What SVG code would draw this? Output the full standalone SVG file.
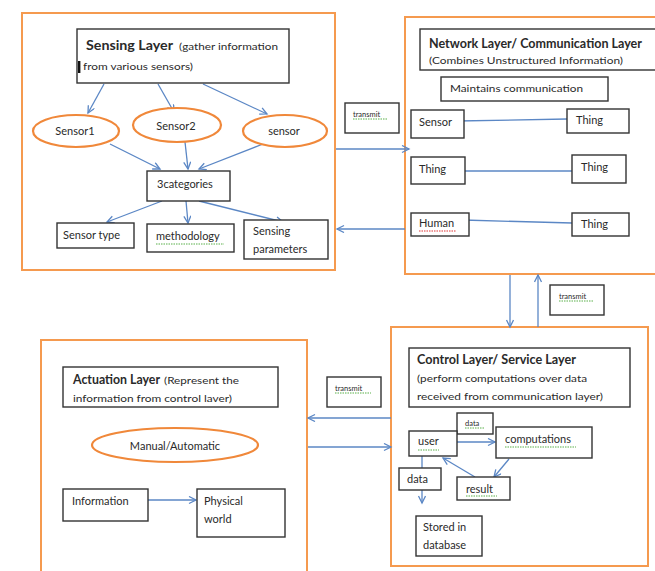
<svg xmlns="http://www.w3.org/2000/svg" width="655" height="571" viewBox="0 0 655 571">
<defs>
<style>
.layer{fill:#fff;stroke:#F59A4F;stroke-width:2}
.box{fill:#fff;stroke:#333;stroke-width:1.4}
.ell{fill:#fff;stroke:#F0883A;stroke-width:2.2}
.con{stroke:#5B87C5;stroke-width:1.3;fill:none}
.arr{marker-end:url(#ah)}
text{font-family:Lato,"Open Sans","Liberation Sans",sans-serif;fill:#2a2a2a}
.t{font-size:11px}
.s{font-size:10px}
.xs{font-size:7.5px}
.b{font-size:13px;font-weight:bold}
.sq{stroke:#5AB04A;stroke-width:1.2;stroke-dasharray:1.5 1;fill:none}
.sqr{stroke:#D33;stroke-width:1.2;stroke-dasharray:1.5 1;fill:none}
</style>
<marker id="ah" markerWidth="10" markerHeight="10" refX="8" refY="4" orient="auto" markerUnits="userSpaceOnUse">
<path d="M1,0.5 L8,4 L1,7.5" fill="none" stroke="#5B87C5" stroke-width="1.3"/>
</marker>
</defs>
<rect width="655" height="571" fill="#fff"/>

<g id="sensing-layer">
<rect class="layer" x="22" y="13" width="313" height="257"/>
</g>
<g id="network-layer">
<rect class="layer" x="405" y="17" width="260" height="257"/>
</g>
<g id="control-layer">
<rect class="layer" x="391" y="327" width="257" height="239"/>
</g>
<g id="actuation-layer">
<rect class="layer" x="41" y="340" width="266" height="240"/>
</g>

<g id="connectors">
<line class="con arr" x1="104" y1="84" x2="88" y2="113"/>
<line class="con arr" x1="158" y1="84" x2="174" y2="112"/>
<line class="con arr" x1="203" y1="84" x2="267" y2="114"/>
<line class="con arr" x1="110" y1="144" x2="160" y2="169"/>
<line class="con arr" x1="185" y1="142" x2="188" y2="169"/>
<line class="con arr" x1="263" y1="144" x2="199" y2="169"/>
<line class="con arr" x1="162" y1="201" x2="107" y2="222"/>
<line class="con arr" x1="186" y1="201" x2="188" y2="223"/>
<line class="con arr" x1="199" y1="201" x2="283" y2="222"/>
<line class="con arr" x1="336" y1="149" x2="409" y2="149"/>
<line class="con arr" x1="405" y1="229" x2="337" y2="229"/>
<line class="con" x1="457" y1="121" x2="567" y2="119"/>
<line class="con" x1="458" y1="171" x2="572" y2="171"/>
<line class="con" x1="463" y1="220" x2="572" y2="223"/>
<line class="con arr" x1="510" y1="275" x2="510" y2="327"/>
<line class="con arr" x1="538" y1="327" x2="538" y2="275"/>
<line class="con arr" x1="391" y1="418" x2="308" y2="418"/>
<line class="con arr" x1="308" y1="447" x2="391" y2="447"/>
<line class="con arr" x1="457" y1="442" x2="495" y2="442"/>
<line class="con arr" x1="509" y1="459" x2="494" y2="477"/>
<line class="con arr" x1="475" y1="477" x2="443" y2="458"/>
<line class="con arr" x1="422" y1="456" x2="422" y2="503"/>
<line class="con arr" x1="148" y1="500" x2="196" y2="500"/>
</g>

<g id="sensing-title">
<rect class="box" x="77" y="29" width="212" height="54"/>
<text x="86" y="50" class="b" textLength="87" lengthAdjust="spacingAndGlyphs">Sensing Layer</text>
<text x="179" y="50" class="s" textLength="99" lengthAdjust="spacingAndGlyphs">(gather information</text>
<rect x="78" y="61" width="2.4" height="12" fill="#111"/>
<text x="83" y="70" class="s" textLength="110" lengthAdjust="spacingAndGlyphs">from various sensors)</text>
</g>
<g id="sensor1">
<ellipse class="ell" cx="76" cy="131" rx="43" ry="16"/>
<text x="75" y="135" class="t" text-anchor="middle">Sensor1</text>
</g>
<g id="sensor2">
<ellipse class="ell" cx="177" cy="125" rx="44" ry="17"/>
<text x="176" y="130" class="t" text-anchor="middle">Sensor2</text>
</g>
<g id="sensor3">
<ellipse class="ell" cx="285" cy="131" rx="42" ry="16"/>
<text x="284" y="135" class="t" text-anchor="middle">sensor</text>
</g>
<g id="categories">
<rect class="box" x="147" y="171" width="83" height="30"/>
<text x="157" y="188" class="t">3categories</text>
</g>
<g id="sensor-type">
<rect class="box" x="57" y="223" width="77" height="25"/>
<text x="63" y="239" class="t">Sensor type</text>
</g>
<g id="methodology">
<rect class="box" x="147" y="224" width="87" height="28"/>
<text x="156" y="240" class="t">methodology</text>
<line class="sq" x1="156" y1="244" x2="224" y2="244"/>
</g>
<g id="sensing-parameters">
<rect class="box" x="244" y="220" width="84" height="39"/>
<text x="253" y="235" class="t">Sensing</text>
<text x="253" y="253" class="t">parameters</text>
</g>

<g id="transmit-1">
<rect class="box" x="345" y="103" width="54" height="30"/>
<text x="353" y="117" class="xs">transmit</text>
<line class="sq" x1="353" y1="119" x2="387" y2="119"/>
</g>

<g id="network-title">
<rect class="box" x="420" y="29" width="245" height="41"/>
<text x="429" y="48" class="b" textLength="213" lengthAdjust="spacingAndGlyphs">Network  Layer/ Communication  Layer</text>
<text x="429" y="64" class="s" textLength="194" lengthAdjust="spacingAndGlyphs">(Combines Unstructured Information)</text>
</g>
<g id="maintains">
<rect class="box" x="441" y="77" width="167" height="24"/>
<text x="450" y="92" class="s" textLength="133" lengthAdjust="spacingAndGlyphs">Maintains communication</text>
</g>
<g id="net-sensor">
<rect class="box" x="411" y="110" width="53" height="28"/>
<text x="419" y="126" class="t">Sensor</text>
</g>
<g id="net-thing-1">
<rect class="box" x="567" y="109" width="62" height="24"/>
<text x="576" y="124" class="t">Thing</text>
</g>
<g id="net-thing-2">
<rect class="box" x="411" y="157" width="54" height="27"/>
<text x="419" y="173" class="t">Thing</text>
</g>
<g id="net-thing-3">
<rect class="box" x="572" y="155" width="54" height="28"/>
<text x="581" y="171" class="t">Thing</text>
</g>
<g id="net-human">
<rect class="box" x="411" y="213" width="58" height="23"/>
<text x="419" y="227" class="t">Human</text>
<line class="sqr" x1="419" y1="231" x2="456" y2="231"/>
</g>
<g id="net-thing-4">
<rect class="box" x="572" y="213" width="57" height="23"/>
<text x="581" y="228" class="t">Thing</text>
</g>

<g id="transmit-2">
<rect class="box" x="550" y="285" width="54" height="30"/>
<text x="559" y="299" class="xs">transmit</text>
<line class="sq" x1="559" y1="301" x2="593" y2="301"/>
</g>

<g id="control-title">
<rect class="box" x="409" y="348" width="221" height="59"/>
<text x="417" y="364" class="b" textLength="159" lengthAdjust="spacingAndGlyphs">Control  Layer/ Service Layer</text>
<text x="417" y="382" class="s" textLength="170" lengthAdjust="spacingAndGlyphs">(perform computations over data</text>
<text x="417" y="400" class="s" textLength="186" lengthAdjust="spacingAndGlyphs">received from communication layer)</text>
</g>
<g id="transmit-3">
<rect class="box" x="327" y="377" width="54" height="30"/>
<text x="335" y="391" class="xs">transmit</text>
<line class="sq" x1="335" y1="393" x2="371" y2="393"/>
</g>
<g id="data-top">
<rect class="box" x="457" y="413" width="36" height="21"/>
<text x="465" y="426" class="xs">data</text>
<line class="sq" x1="465" y1="428" x2="485" y2="428"/>
</g>
<g id="user">
<rect class="box" x="409" y="431" width="48" height="25"/>
<text x="418" y="445" class="t">user</text>
<line class="sq" x1="418" y1="450" x2="439" y2="450"/>
</g>
<g id="computations">
<rect class="box" x="496" y="427" width="96" height="31"/>
<text x="505" y="443" class="t">computations</text>
<line class="sq" x1="505" y1="447" x2="576" y2="447"/>
</g>
<g id="data-low">
<rect class="box" x="399" y="468" width="42" height="22"/>
<text x="407" y="483" class="t">data</text>
</g>
<g id="result">
<rect class="box" x="457" y="477" width="53" height="23"/>
<text x="466" y="493" class="t">result</text>
<line class="sq" x1="466" y1="496" x2="497" y2="496"/>
</g>
<g id="stored">
<rect class="box" x="416" y="516" width="66" height="40"/>
<text x="423" y="531" class="t">Stored in</text>
<text x="423" y="549" class="t">database</text>
</g>

<g id="actuation-title">
<rect class="box" x="63" y="367" width="215" height="40"/>
<text x="73" y="384" class="b" textLength="87" lengthAdjust="spacingAndGlyphs">Actuation  Layer</text>
<text x="164" y="384" class="s" textLength="75" lengthAdjust="spacingAndGlyphs">(Represent the</text>
<text x="73" y="402" class="s" textLength="159" lengthAdjust="spacingAndGlyphs">information from control laver)</text>
</g>
<g id="manual">
<ellipse class="ell" cx="175" cy="445" rx="83" ry="17"/>
<text x="175" y="450" class="t" text-anchor="middle">Manual/Automatic</text>
</g>
<g id="information">
<rect class="box" x="63" y="489" width="85" height="32"/>
<text x="72" y="505" class="t">Information</text>
</g>
<g id="physical">
<rect class="box" x="197" y="489" width="88" height="48"/>
<text x="204" y="505" class="t">Physical</text>
<text x="204" y="523" class="t">world</text>
</g>
</svg>
